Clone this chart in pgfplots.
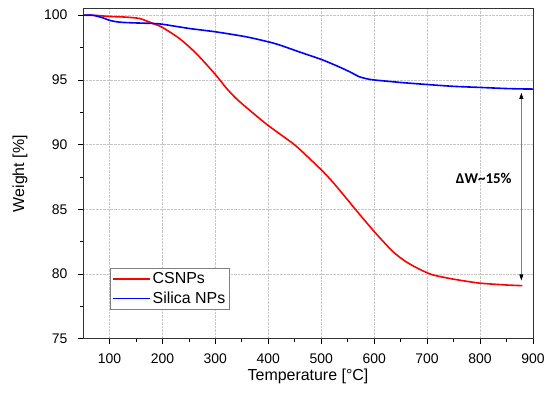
\documentclass[border=0pt]{standalone}
\usepackage{pgfplots}
\pgfplotsset{compat=1.18}
\usepackage{fontspec}
\setmainfont{Liberation Sans}
\newfontfamily\calibri{Carlito}
\usetikzlibrary{arrows.meta}
\begin{document}
\begin{tikzpicture}
\begin{axis}[
  scale only axis,
  width=450bp, height=330bp,
  xmin=50, xmax=900, ymin=75, ymax=100.5,
  xtick={100,200,...,900},
  minor xtick={150,250,...,850},
  ytick={75,80,...,100},
  minor ytick={77.5,82.5,...,97.5},
  xtick pos=bottom, ytick pos=left,
  tick align=outside,
  major tick length=5bp, minor tick length=3bp,
  every tick/.style={black, line width=0.7bp},
  axis line style={line width=0.8bp, black!80},
  grid=major,
  major grid style={densely dotted, gray!45, line width=0.6bp},
  /pgf/number format/assume math mode=true,
  ticklabel style={font=\fontsize{14}{16}\selectfont},
  xticklabel style={yshift=-7bp},
  yticklabel style={xshift=-7bp},
  xlabel={Temperature [°C]},
  ylabel={Weight [\%]},
  label style={font=\fontsize{16}{18}\selectfont},
  xlabel style={at={(axis description cs:0.5,-0.115)}, anchor=center},
  ylabel style={at={(axis description cs:-0.14,0.5)}, anchor=center},
  legend style={at={(axis description cs:0.06,0.088)}, anchor=south west,
    draw=gray, line width=0.5bp, font=\fontsize{16}{18}\selectfont,
    inner xsep=2bp, inner ysep=2.5bp, row sep=2.5bp},
  legend cell align=left,
  legend image code/.code={\draw[#1, line width=1.4bp] (0bp,0bp) -- (37bp,0bp);},
]
\addplot[red, line width=1.6bp, smooth, tension=0.4] coordinates {
(50,100) (75,99.98) (100,99.9) (131,99.85) (157,99.74) (182,99.36) (200,99.05)
(232,98.2) (264,97.04) (301,95.37) (320,94.4) (339,93.57) (364,92.68) (399,91.5)
(446,90.1) (465,89.42) (500,88.05) (521,87.14) (550,85.72) (565,84.97) (600,83.28) (635,81.74)
(660,80.95) (685,80.38) (710,79.94) (750,79.6) (798,79.3) (850,79.15) (880,79.1)
};
\addlegendentry{CSNPs}
\addplot[blue, line width=1.6bp, smooth, tension=0.4] coordinates {
(50,100) (68,100) (87,99.8) (100,99.6) (112,99.5) (125,99.44) (150,99.4) (181,99.36)
(200,99.3) (251,98.97) (301,98.71) (358,98.33) (400,97.94) (421,97.7) (458,97.17)
(502,96.55) (534,96.0) (555,95.6) (572,95.24) (590,95.05) (603,94.98) (650,94.8)
(697,94.65) (750,94.5) (798,94.42) (850,94.33) (880,94.3) (900,94.29)
};
\addlegendentry{Silica NPs}
\addplot[gray, line width=0.6bp, forget plot,
  {Triangle[black,length=6bp,width=4bp]}-{Triangle[black,length=6bp,width=4bp]}]
  coordinates {(878,79.5) (878,94.0)};
\node[font=\calibri\bfseries\fontsize{15}{17}\selectfont] at (axis cs:807,87.35) {ΔW\textasciitilde15\%};
\end{axis}
\pgfresetboundingbox
\path[use as bounding box] ([xshift=-83bp,yshift=-56bp]current axis.south west) rectangle ([xshift=17bp,yshift=8.7bp]current axis.north east);
\end{tikzpicture}
\end{document}
